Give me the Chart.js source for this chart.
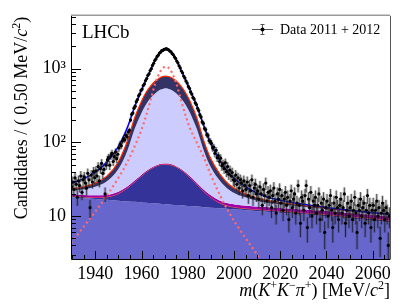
<!DOCTYPE html>
<html>
<head>
<meta charset="utf-8">
<script src="https://cdn.jsdelivr.net/npm/chart.js@4.4.0/dist/chart.umd.min.js"></script>
<style>
  html, body { margin: 0; padding: 0; background: #fff; }
  #wrap { width: 411px; height: 308px; }
</style>
</head>
<body>
<div id="wrap"><canvas id="c" width="411" height="308"></canvas></div>
<script>
// histogram binning (0.50 MeV bins)
const binStart = 1929.5;
const binWidth = 0.5;

// data 2011 + 2012, candidates per bin
const dataCounts = [
  25,
  29, 23, 33, 27, 18, 30, 26, 35, 21, 31,
  34, 28, 24, 38, 31, 13, 36, 29, 40, 33,
  41, 35, 47, 30, 44, 52, 38, 43, 20, 49,
  58, 62, 49, 66, 71, 55, 64, 74, 60, 69,
  84, 95, 90, 104, 112, 108, 125, 119, 138, 146,
  201, 240, 250, 291, 309, 356, 380, 428, 452, 505,
  527, 589, 619, 688, 733, 810, 852, 941, 998, 1104,
  1178, 1290, 1352, 1461, 1522, 1623, 1671, 1748, 1766, 1822,
  1838, 1861, 1822, 1795, 1728, 1689, 1601, 1540, 1441, 1372,
  1268, 1197, 1091, 1021, 928, 879, 792, 748, 679, 636,
  574, 541, 483, 452, 405, 386, 344, 326, 290, 270,
  236, 220, 189, 181, 154, 149, 127, 124, 106, 103,
  97, 84, 86, 71, 78, 62, 66, 55, 61, 48,
  51, 44, 53, 40, 47, 37, 42, 35, 39, 31,
  30, 36, 27, 33, 24, 31, 28, 22, 30, 26,
  23, 29, 19, 26, 22, 31, 18, 24, 27, 20,
  22, 17, 25, 20, 14, 23, 19, 28, 16, 21,
  18, 22, 13, 19, 24, 16, 11, 20, 17, 23,
  15, 19, 12, 17, 21, 14, 18, 9, 16, 22,
  13, 17, 20, 11, 15, 26, 14, 8, 18, 16,
  12, 19, 26, 7, 17, 13, 21, 10, 16, 14,
  18, 11, 14, 20, 9, 15, 12, 17, 6, 13,
  16, 10, 14, 19, 12, 7, 15, 11, 18, 13,
  9, 14, 17, 11, 13, 20, 8, 12, 15, 10,
  13, 16, 9, 12, 18, 11, 6, 14, 12, 17,
  10, 13, 15, 8, 12, 19, 11, 14, 7, 12,
  14, 9, 12, 16, 10, 13, 5, 11, 15, 12,
  9, 13, 11, 4, 10
];

const fitMass = [1929.5, 1935, 1940, 1945, 1950, 1954, 1957, 1960, 1962, 1964, 1966, 1968,
  1969.5, 1970.5, 1971.5, 1973, 1975, 1977, 1979, 1981, 1984, 1987, 1990, 1994, 1998,
  2003, 2008, 2014, 2020, 2030, 2040, 2050, 2060, 2067.5];
const bkgLevel = [18.0, 17.5, 17.1, 16.6, 16.2, 15.8, 15.6, 15.3, 15.15, 15.0, 14.8, 14.7,
  14.55, 14.5, 14.4, 14.3, 14.1, 14.0, 13.8, 13.7, 13.5, 13.2, 13.0, 12.75, 12.5,
  12.15, 11.8, 11.45, 11.1, 10.5, 9.95, 9.3, 8.7, 8.2];
const navyLevel = [18.7, 18.2, 17.9, 18.2, 20.2, 24.2, 29.1, 35.1, 39.6, 43.7, 47.1, 49.6,
  50.5, 50.6, 50.3, 49.2, 46.4, 42.7, 38.2, 33.5, 27.0, 21.6, 17.9, 15.0, 13.6,
  12.85, 12.45, 12.05, 11.7, 11.1, 10.5, 9.85, 9.25, 8.75];
const magentaLevel = [19.9, 19.4, 19.1, 19.4, 21.4, 25.4, 30.3, 36.3, 40.8, 44.9, 48.3, 50.8,
  51.7, 51.8, 51.5, 50.4, 47.6, 43.9, 39.4, 34.7, 28.2, 22.8, 19.1, 16.2, 14.8,
  14.05, 13.65, 13.25, 12.9, 12.3, 11.7, 11.0, 10.35, 9.85];
const lavenderLevel = [22.2, 23.1, 25.0, 29.6, 43.4, 79, 152, 251, 329, 401, 465, 515,
  535, 540, 534, 514, 465, 400, 327, 250, 150, 76.5, 45.9, 29.9, 22.6,
  18.85, 16.8, 15.3, 14.5, 13.4, 12.45, 11.6, 10.85, 10.3];
const darkLevel = [23.4, 25.0, 28.0, 34.9, 54.7, 107, 214, 361, 477, 584, 679, 753,
  783, 790, 782, 752, 679, 583, 475, 360, 212, 104, 59.7, 36.9, 26.6,
  21.3, 18.4, 16.35, 15.3, 13.95, 12.85, 11.9, 11.1, 10.5];
// dotted component, drawn on its own
const mainSignal = [4.3, 7.2, 11.5, 19, 33, 55, 88, 148, 230, 380, 640, 900,
  1035, 1060, 1035, 900, 640, 385, 235, 155, 98, 62, 36, 19, 11,
  6.2, 3.7, 2.0, 1.15, 0.5, 0.25, 0.12, 0.06, 0.04];

const xTicks = [1940, 1960, 1980, 2000, 2020, 2040, 2060];
const xTickLabels = ['1940', '1960', '1980', '2000', '2020', '2040', '2060'];
const yTicks = [10, 100, 1000];
const yTickLabels = ['10', '10\u00b2', '10\u00b3'];

const SERIF = "'Liberation Serif', 'DejaVu Serif', serif";
const xTitle = [{t: 'm', i: 1}, {t: '('}, {t: 'K', i: 1}, {t: '+', s: 1}, {t: 'K', i: 1},
  {t: '\u2212', s: 1}, {t: '\u03c0', i: 1}, {t: '+', s: 1}, {t: ') [MeV/'}, {t: 'c', i: 1},
  {t: '2', s: 1}, {t: ']'}];
const yTitle = [{t: 'Candidates / ( 0.50 MeV/'}, {t: 'c', i: 1}, {t: '2', s: 1}, {t: ')'}];
const legendText = 'Data 2011 + 2012';
const experiment = 'LHCb';

const curve = (vals) => fitMass.map((m, i) => ({x: m, y: vals[i]}));
const totalFit = darkLevel.map((v, i) => v + mainSignal[i]);
const dataPoints = dataCounts.map((n, i) => ({x: binStart + binWidth * (i + 0.5), y: n}));

function fontFor(p, size) {
  return (p.i ? 'italic ' : '') + (p.s ? Math.round(size * 0.68) : size) + 'px ' + SERIF;
}
function drawRich(ctx, parts, x, y, size, align) {
  let w = 0;
  parts.forEach(p => { ctx.font = fontFor(p, size); w += ctx.measureText(p.t).width; });
  let cx = align === 'right' ? x - w : (align === 'center' ? x - w / 2 : x);
  ctx.textAlign = 'left';
  ctx.textBaseline = 'alphabetic';
  parts.forEach(p => {
    ctx.font = fontFor(p, size);
    ctx.fillText(p.t, cx, y - (p.s ? size * 0.38 : 0));
    cx += ctx.measureText(p.t).width;
  });
}

// poisson error bars under the data markers
const errorBars = {
  id: 'errorBars',
  beforeDatasetDraw(chart, args) {
    if (args.index !== 7) return;
    const {ctx, chartArea: a, scales: {x, y}} = chart;
    ctx.save();
    ctx.beginPath();
    ctx.rect(a.left, a.top, a.right - a.left, a.bottom - a.top);
    ctx.clip();
    dataCounts.forEach((n, i) => {
      const px = x.getPixelForValue(binStart + binWidth * (i + 0.5));
      const e = Math.sqrt(n);
      const top = y.getPixelForValue(n + e);
      const bot = y.getPixelForValue(Math.max(n - e, 0.5));
      ctx.fillStyle = 'rgba(70,70,70,0.28)';
      ctx.fillRect(px - 1.5, top, 3, bot - top);
      ctx.strokeStyle = 'rgba(0,0,0,0.75)';
      ctx.lineWidth = 0.8;
      ctx.beginPath();
      ctx.moveTo(px, top);
      ctx.lineTo(px, bot);
      ctx.stroke();
    });
    ctx.restore();
  }
};

// ROOT style frame, inner ticks, labels
const frame = {
  id: 'frame',
  afterDraw(chart) {
    const {ctx, chartArea: a, scales: {x, y}} = chart;
    ctx.save();
    ctx.strokeStyle = '#000';
    ctx.lineWidth = 1;
    ctx.beginPath();
    for (let m = 1930; m <= x.max; m += 5) {
      const px = Math.round(x.getPixelForValue(m)) + 0.5;
      const len = xTicks.includes(m) ? 8 : 4;
      ctx.moveTo(px, a.bottom);
      ctx.lineTo(px, a.bottom - len);
    }
    for (let d = 1; d <= 1000; d *= 10) {
      for (let k = 1; k <= 9; k++) {
        const v = k * d;
        if (v < y.min || v > y.max) continue;
        const py = Math.round(y.getPixelForValue(v)) + 0.5;
        ctx.moveTo(a.left, py);
        ctx.lineTo(a.left + (k === 1 ? 10 : 5), py);
      }
    }
    ctx.stroke();

    ctx.beginPath();
    ctx.moveTo(a.left + 0.5, a.top);
    ctx.lineTo(a.left + 0.5, a.bottom + 0.5);
    ctx.lineTo(a.right, a.bottom + 0.5);
    ctx.stroke();
    ctx.strokeStyle = '#999';
    ctx.lineWidth = 1.5;
    ctx.beginPath();
    ctx.moveTo(a.left, a.top - 0.5);
    ctx.lineTo(a.right, a.top - 0.5);
    ctx.stroke();
    ctx.strokeStyle = '#555';
    ctx.lineWidth = 1;
    ctx.beginPath();
    ctx.moveTo(a.right + 0.5, a.top);
    ctx.lineTo(a.right + 0.5, a.bottom + 0.5);
    ctx.stroke();

    ctx.fillStyle = '#000';
    ctx.font = '19px ' + SERIF;
    ctx.textAlign = 'left';
    ctx.fillText(experiment, 82, 38);

    // legend entry
    ctx.beginPath();
    ctx.moveTo(252, 29.5);
    ctx.lineTo(273, 29.5);
    ctx.moveTo(262.5, 24.5);
    ctx.lineTo(262.5, 34.5);
    ctx.moveTo(260.5, 24.5);
    ctx.lineTo(264.5, 24.5);
    ctx.moveTo(260.5, 34.5);
    ctx.lineTo(264.5, 34.5);
    ctx.stroke();
    ctx.beginPath();
    ctx.arc(262.5, 29.5, 2, 0, Math.PI * 2);
    ctx.fill();
    ctx.font = '14px ' + SERIF;
    ctx.fillText(legendText, 280, 34);

    drawRich(ctx, xTitle, a.right, 296, 18, 'right');
    ctx.translate(27, 118);
    ctx.rotate(-Math.PI / 2);
    drawRich(ctx, yTitle, 0, 0, 18, 'center');
    ctx.restore();
  }
};

const line = {pointRadius: 0, borderWidth: 0, cubicInterpolationMode: 'monotone'};

new Chart(document.getElementById('c'), {
  type: 'line',
  data: {
    datasets: [
      {...line, data: curve(bkgLevel), backgroundColor: '#6666cc', fill: 'start', order: 7},
      {...line, data: curve(navyLevel), backgroundColor: '#333399', borderColor: '#ff5a3c', borderWidth: 1, fill: '-1', order: 6},
      {...line, data: curve(magentaLevel), backgroundColor: '#a000a8', fill: '-1', order: 5},
      {...line, data: curve(lavenderLevel), backgroundColor: '#ccccff', fill: '-1', order: 4},
      {...line, data: curve(darkLevel), backgroundColor: '#333366', borderColor: '#ff2a00', borderWidth: 1.2, fill: '-1', order: 3},
      {...line, data: curve(mainSignal), borderColor: '#ff6a6a', borderWidth: 2.2, borderDash: [2, 3], fill: false, order: 2},
      {...line, data: curve(totalFit), borderColor: '#0000ff', borderWidth: 1.6, fill: false, order: 1},
      {data: dataPoints, showLine: false, pointRadius: 1.6, pointBorderWidth: 0, pointBackgroundColor: '#000', order: 0}
    ]
  },
  options: {
    responsive: false,
    animation: false,
    events: [],
    layout: {padding: {top: 15, right: 21, left: 0, bottom: 0}},
    plugins: {legend: {display: false}, tooltip: {enabled: false}},
    scales: {
      x: {
        type: 'linear', min: 1929.5, max: 2067.5,
        afterFit(s) { s.height = 49; },
        afterBuildTicks(s) { s.ticks = xTicks.map(v => ({value: v})); },
        grid: {display: false, drawTicks: false},
        border: {display: false},
        ticks: {padding: 4, color: '#000', maxRotation: 0, autoSkip: false,
          font: {family: SERIF, size: 18},
          callback: (v) => xTickLabels[xTicks.indexOf(v)]}
      },
      y: {
        type: 'logarithmic', min: 2.62, max: 5200,
        afterFit(s) { s.width = 71; },
        afterBuildTicks(s) { s.ticks = yTicks.map(v => ({value: v})); },
        grid: {display: false, drawTicks: false},
        border: {display: false},
        ticks: {padding: 5, color: '#000', autoSkip: false,
          font: {family: SERIF, size: 18},
          callback: (v) => yTickLabels[yTicks.indexOf(v)]}
      }
    }
  },
  plugins: [errorBars, frame]
});
</script>
</body>
</html>
